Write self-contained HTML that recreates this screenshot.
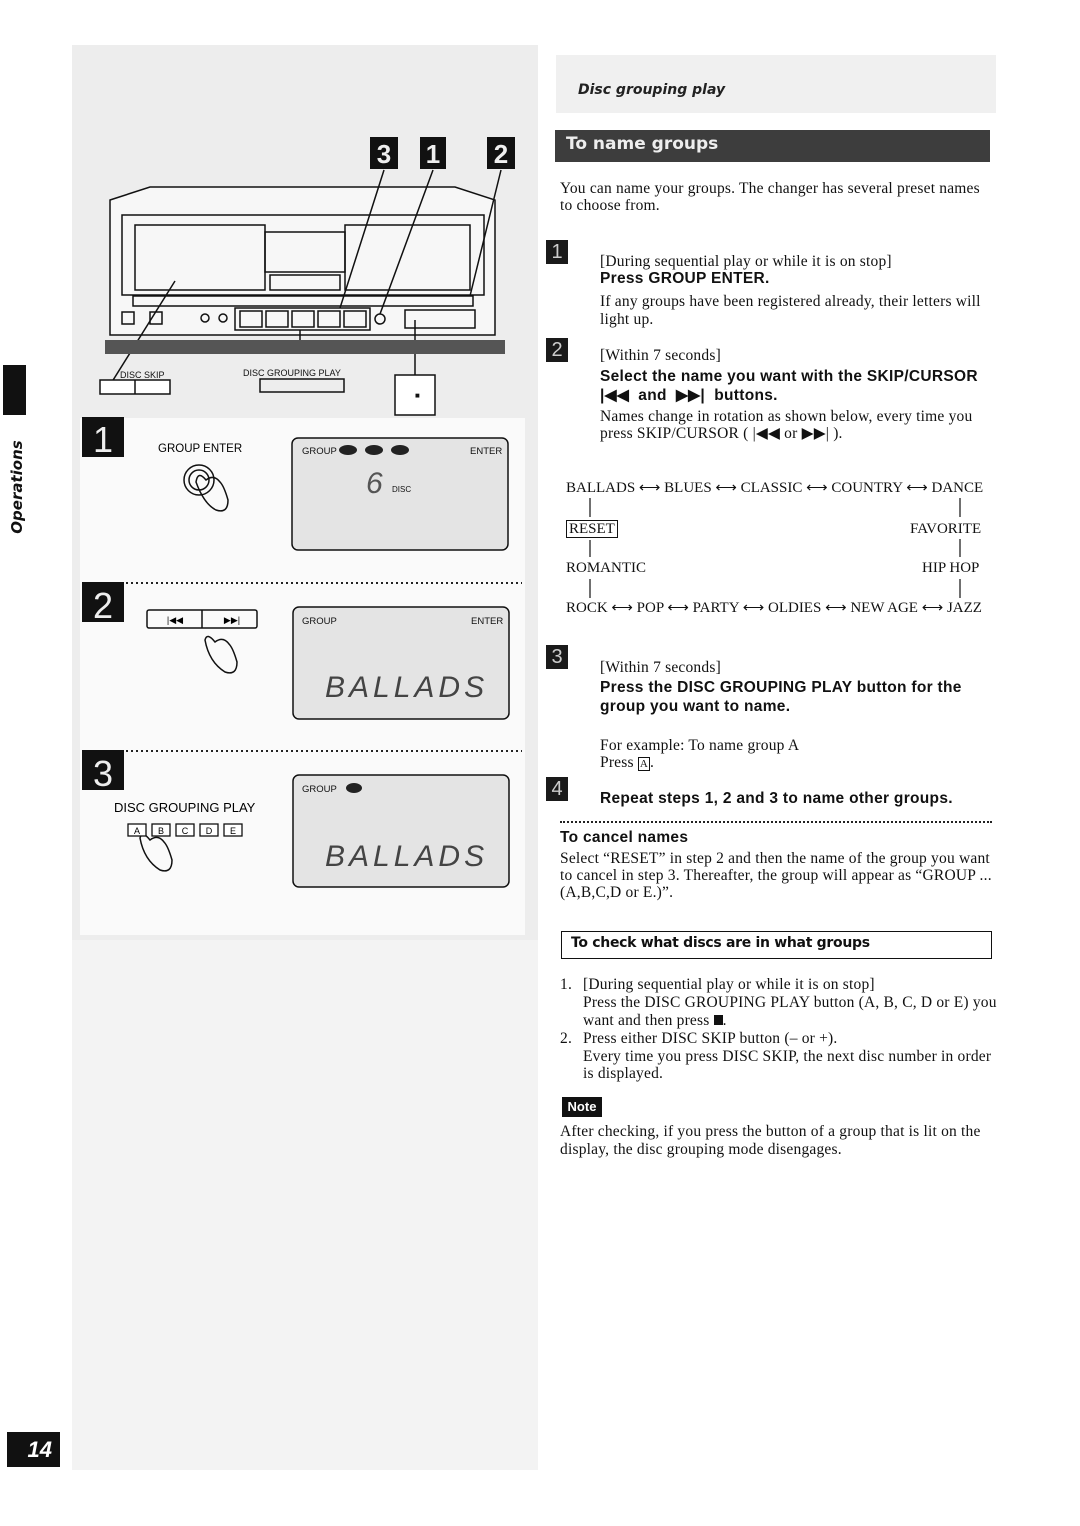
<!DOCTYPE html>
<html><head><meta charset="utf-8">
<style>
html,body{margin:0;padding:0;background:#fff;}
body{width:1080px;height:1526px;position:relative;overflow:hidden;font-family:"Liberation Serif",serif;color:#111;}
.t{position:absolute;white-space:nowrap;font-size:15.5px;letter-spacing:0.2px;line-height:17px;}
.b{position:absolute;white-space:nowrap;font-family:"Liberation Sans",sans-serif;font-weight:bold;font-size:15.5px;letter-spacing:0.3px;line-height:18px;}
.c{font-size:15px;letter-spacing:0;}
.sq{position:absolute;width:22px;height:24px;background:#1a1a1a;color:#ccc;font-family:"Liberation Sans",sans-serif;font-size:20px;line-height:24px;text-align:center;}
</style></head><body>
<div style="position:absolute;left:72px;top:45px;width:466px;height:1425px;background:#ededed"></div>
<div style="position:absolute;left:72px;top:940px;width:466px;height:530px;background:#f3f3f3"></div>
<div style="position:absolute;left:556px;top:55px;width:440px;height:58px;background:#f0f0f0"></div>
<div style="position:absolute;left:578px;top:82px;font-family:'DejaVu Sans',sans-serif;font-style:italic;font-weight:bold;font-size:14px;color:#222">Disc grouping play</div>
<div style="position:absolute;left:555px;top:130px;width:435px;height:32px;background:#3d3d3d"></div>
<div style="position:absolute;left:566px;top:134px;font-family:'DejaVu Sans',sans-serif;font-weight:bold;font-size:17px;color:#eee">To name groups</div>

<div style="position:absolute;left:3px;top:365px;width:23px;height:50px;background:#111"></div>
<div style="position:absolute;left:-33px;top:478px;width:100px;transform:rotate(-90deg);font-family:'DejaVu Sans',sans-serif;font-weight:bold;font-style:italic;font-size:15px;text-align:center">Operations</div>
<div style="position:absolute;left:7px;top:1432px;width:53px;height:35px;background:#111;color:#fff;font-family:'Liberation Sans',sans-serif;font-style:italic;font-weight:bold;font-size:22px;line-height:35px;text-align:right"><span style="margin-right:8px">14</span></div>

<svg style="position:absolute;left:0;top:0" width="540" height="1470" xmlns="http://www.w3.org/2000/svg" font-family="Liberation Sans, sans-serif">
 <g fill="#111">
  <rect x="370" y="137" width="28" height="32"/><rect x="420" y="137" width="26" height="32"/><rect x="487" y="137" width="28" height="32"/>
 </g>
 <g fill="#eee" font-size="26" font-weight="bold" text-anchor="middle"><text x="384" y="163">3</text><text x="433" y="163">1</text><text x="501" y="163">2</text></g>
 <g stroke="#111" fill="none" stroke-width="1.5">
  <path d="M110 200 L150 187 L455 187 L495 200 L495 335 L110 335 Z" fill="#f7f7f7"/>
  <rect x="122" y="215" width="362" height="80"/>
  <rect x="135" y="225" width="130" height="65"/>
  <rect x="265" y="232" width="80" height="40"/>
  <rect x="345" y="225" width="125" height="65"/>
  <rect x="270" y="275" width="70" height="15"/>
  <rect x="133" y="296" width="340" height="10"/>
  <rect x="122" y="312" width="12" height="12"/><rect x="150" y="312" width="12" height="12"/>
  <circle cx="205" cy="318" r="4"/><circle cx="223" cy="318" r="4"/>
  <rect x="235" y="308" width="135" height="22"/>
  <rect x="240" y="311" width="22" height="16"/><rect x="266" y="311" width="22" height="16"/><rect x="292" y="311" width="22" height="16"/><rect x="318" y="311" width="22" height="16"/><rect x="344" y="311" width="22" height="16"/>
  <circle cx="380" cy="319" r="5"/>
  <rect x="405" y="310" width="70" height="18"/>
  <path d="M384 170 L340 308 M433 170 L380 314 M501 170 L470 296"/>
  <path d="M175 281 L110 385 M300 330 L300 352 M415 320 L415 378"/>
  <rect x="100" y="380" width="70" height="14" fill="#fff"/><path d="M135 380 V394"/>
  <rect x="395" y="375" width="40" height="40" fill="#fff"/>
  <rect x="260" y="379" width="84" height="13"/>
 </g>
 <rect x="105" y="340" width="400" height="14" fill="#555"/>
 <g font-size="9" fill="#111"><text x="120" y="378">DISC SKIP</text><text x="243" y="376">DISC GROUPING PLAY</text><text x="415" y="398" font-size="8">■</text></g>

 <rect x="80" y="418" width="445" height="517" fill="#fafafa"/>
 <g fill="#111"><rect x="82" y="417" width="42" height="40"/><rect x="82" y="582" width="42" height="40"/><rect x="82" y="750" width="42" height="40"/></g>
 <g fill="#eee" font-size="36" text-anchor="middle"><text x="103" y="452">1</text><text x="103" y="618">2</text><text x="103" y="786">3</text></g>
 <g stroke="#222" stroke-width="2" stroke-dasharray="2 3"><path d="M126 583 H522 M126 751 H522"/></g>
 <text x="158" y="452" font-size="11.5">GROUP ENTER</text>
 <g stroke="#111" fill="none" stroke-width="1.5">
  <circle cx="199" cy="480" r="15"/><circle cx="199" cy="480" r="10"/>
  <path d="M196 482 q8 22 20 28 q12 4 12 -10 q-4 -14 -8 -18 q-6 -8 -14 -2 q-8 -10 -10 2z"/>
  <rect x="147" y="610" width="110" height="18" rx="2"/><path d="M202 610 V628"/>
  <path d="M205 640 q4 22 20 32 q12 4 12 -10 q-4 -14 -8 -18 q-6 -8 -14 -2 q-8 -10 -10 -2z"/>
  <path d="M140 838 q4 22 20 32 q12 4 12 -10 q-4 -14 -8 -18 q-6 -8 -14 -2 q-8 -10 -10 -2z"/>
 </g>
 <g stroke="#111" stroke-width="1.5"><rect x="292" y="438" width="216" height="112" rx="6" fill="#e4e4e4"/><rect x="293" y="607" width="216" height="112" rx="6" fill="#e4e4e4"/><rect x="293" y="775" width="216" height="112" rx="6" fill="#e4e4e4"/></g>
 <g font-size="9.5" fill="#111"><text x="302" y="454">GROUP</text><text x="470" y="454">ENTER</text><text x="302" y="624">GROUP</text><text x="471" y="624">ENTER</text><text x="302" y="792">GROUP</text><text x="392" y="492" font-size="8">DISC</text></g>
 <g fill="#222"><ellipse cx="348" cy="450" rx="9" ry="5"/><ellipse cx="374" cy="450" rx="9" ry="5"/><ellipse cx="400" cy="450" rx="9" ry="5"/><ellipse cx="354" cy="788" rx="8" ry="5"/></g>
 <text x="366" y="493" font-size="30" fill="#555" font-style="italic">6</text>
 <g font-size="30" fill="#444" font-style="italic" letter-spacing="4"><text x="325" y="697">BALLADS</text><text x="325" y="866">BALLADS</text></g>
 <text x="114" y="812" font-size="13">DISC GROUPING PLAY</text>
 <g stroke="#111" fill="#fff" stroke-width="1.3"><rect x="128" y="824" width="18" height="12"/><rect x="152" y="824" width="18" height="12"/><rect x="176" y="824" width="18" height="12"/><rect x="200" y="824" width="18" height="12"/><rect x="224" y="824" width="18" height="12"/></g>
 <g font-size="9" text-anchor="middle"><text x="137" y="834">A</text><text x="161" y="834">B</text><text x="185" y="834">C</text><text x="209" y="834">D</text><text x="233" y="834">E</text><text x="175" y="623">|◀◀</text><text x="232" y="623">▶▶|</text></g>
</svg>

<div class="t" style="left:560px;top:180px">You can name your groups. The changer has several preset names</div>
<div class="t" style="left:560px;top:197px">to choose from.</div>

<div class="sq" style="left:546px;top:240px">1</div>
<div class="t" style="left:600px;top:253px">[During sequential play or while it is on stop]</div>
<div class="b" style="left:600px;top:270px">Press GROUP ENTER.</div>
<div class="t" style="left:600px;top:293px">If any groups have been registered already, their letters will</div>
<div class="t" style="left:600px;top:311px">light up.</div>

<div class="sq" style="left:546px;top:338px">2</div>
<div class="t" style="left:600px;top:347px">[Within 7 seconds]</div>
<div class="b" style="left:600px;top:368px">Select the name you want with the SKIP/CURSOR</div>
<div class="b" style="left:600px;top:387px">|◀◀ &nbsp;and &nbsp;▶▶| &nbsp;buttons.</div>
<div class="t" style="left:600px;top:408px">Names change in rotation as shown below, every time you</div>
<div class="t" style="left:600px;top:425px">press SKIP/CURSOR ( |◀◀ or ▶▶| ).</div>

<div class="t c" style="left:566px;top:480px">BALLADS ⟷ BLUES ⟷ CLASSIC ⟷ COUNTRY ⟷ DANCE</div>
<div class="t c" style="left:566px;top:520px;border:1px solid #111;padding:0 2px;line-height:16px">RESET</div>
<div class="t c" style="left:910px;top:521px">FAVORITE</div>
<div class="t c" style="left:566px;top:560px">ROMANTIC</div>
<div class="t c" style="left:922px;top:560px">HIP HOP</div>
<div class="t c" style="left:566px;top:600px">ROCK ⟷ POP ⟷ PARTY ⟷ OLDIES ⟷ NEW AGE ⟷ JAZZ</div>
<svg style="position:absolute;left:560px;top:495px" width="440" height="110" xmlns="http://www.w3.org/2000/svg">
 <g stroke="#111" stroke-width="1.2">
  <path d="M30 3 V22 M30 45 V62 M30 84 V103 M400 3 V22 M400 44 V62 M400 84 V103"/>
 </g>
</svg>

<div class="sq" style="left:546px;top:645px">3</div>
<div class="t" style="left:600px;top:659px">[Within 7 seconds]</div>
<div class="b" style="left:600px;top:679px">Press the DISC GROUPING PLAY button for the</div>
<div class="b" style="left:600px;top:698px">group you want to name.</div>
<div class="t" style="left:600px;top:737px">For example: To name group A</div>
<div class="t" style="left:600px;top:754px">Press <span style="border:1px solid #111;font-size:11px;padding:0 1px">A</span>.</div>

<div class="sq" style="left:546px;top:777px">4</div>
<div class="b" style="left:600px;top:790px">Repeat steps 1, 2 and 3 to name other groups.</div>
<div style="position:absolute;left:560px;top:821px;width:432px;border-top:2px dotted #222"></div>
<div class="b" style="left:560px;top:829px">To cancel names</div>
<div class="t" style="left:560px;top:850px">Select “RESET” in step 2 and then the name of the group you want</div>
<div class="t" style="left:560px;top:867px">to cancel in step 3. Thereafter, the group will appear as “GROUP ...</div>
<div class="t" style="left:560px;top:884px">(A,B,C,D or E.)”.</div>

<div style="position:absolute;left:561px;top:931px;width:429px;height:26px;border:1.5px solid #111"></div>
<div style="position:absolute;left:571px;top:935px;font-family:'DejaVu Sans',sans-serif;font-weight:bold;font-size:14px;letter-spacing:-0.3px">To check what discs are in what groups</div>

<div class="t" style="left:560px;top:976px">1.</div>
<div class="t" style="left:583px;top:976px">[During sequential play or while it is on stop]</div>
<div class="t" style="left:583px;top:994px">Press the DISC GROUPING PLAY button (A, B, C, D or E) you</div>
<div class="t" style="left:583px;top:1012px">want and then press <span style="display:inline-block;width:9px;height:10px;background:#111"></span>.</div>
<div class="t" style="left:560px;top:1030px">2.</div>
<div class="t" style="left:583px;top:1030px">Press either DISC SKIP button (– or +).</div>
<div class="t" style="left:583px;top:1048px">Every time you press DISC SKIP, the next disc number in order</div>
<div class="t" style="left:583px;top:1065px">is displayed.</div>

<div style="position:absolute;left:562px;top:1097px;width:40px;height:20px;background:#111;color:#fff;font-family:'Liberation Sans',sans-serif;font-weight:bold;font-size:13px;line-height:20px;text-align:center">Note</div>
<div class="t" style="left:560px;top:1123px">After checking, if you press the button of a group that is lit on the</div>
<div class="t" style="left:560px;top:1141px">display, the disc grouping mode disengages.</div>
</body></html>
